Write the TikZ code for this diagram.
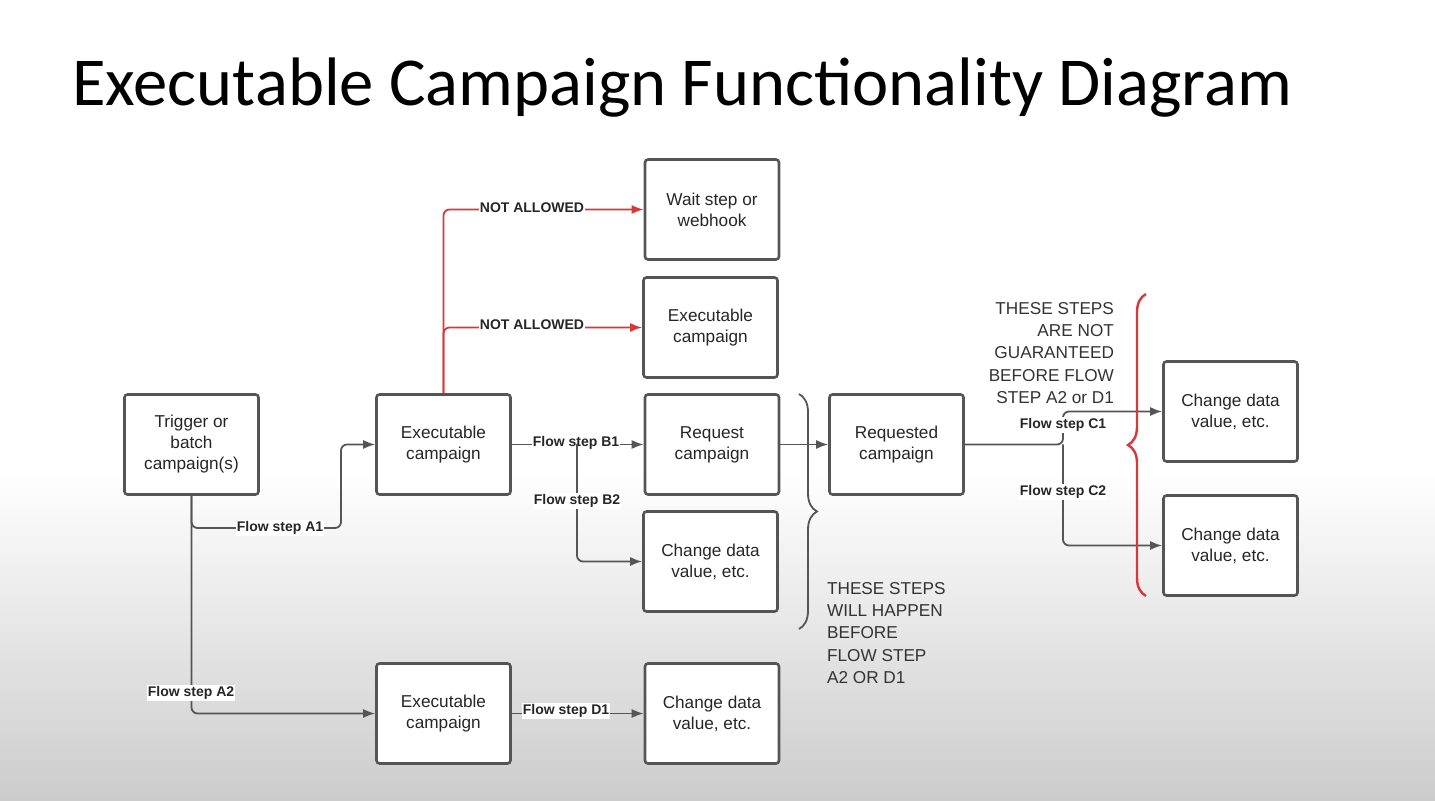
\documentclass[tikz,border=0pt]{standalone}
\usepackage{fontspec}
\setmainfont{Liberation Sans}
\newfontfamily\titlefont{Carlito}
\usetikzlibrary{arrows.meta,decorations.pathreplacing}
\definecolor{ln}{HTML}{555555}
\definecolor{rd}{HTML}{D9383A}
\begin{document}
\begin{tikzpicture}[x=0.5pt,y=-0.5pt,
  box/.style={draw=ln,line width=1.3pt,rounded corners=1.5pt,minimum width=67pt,minimum height=50pt,align=center,font=\fontsize{8.6}{10.5}\selectfont,text=black!85,fill=white},
  conn/.style={draw=ln,line width=0.9pt,-{Latex[length=6pt,width=4.5pt]},rounded corners=3pt},
  red/.style={conn,draw=rd,-{Latex[length=6pt,width=4.5pt]}},
  lab/.style={fill=white,inner sep=0.6pt,font=\bfseries\fontsize{7}{8}\selectfont,text=black!85},
  note/.style={font=\fontsize{8.6}{11.2}\selectfont,text=black!80}]
\shade[top color=white,bottom color=white] (0,0) rectangle (1435,470);
\shade[top color=white,bottom color=black!20] (0,470) rectangle (1435,801);
\useasboundingbox (0,0) rectangle (1435,801);
\node[anchor=base west,inner sep=0,font=\titlefont\fontsize{34.3}{36}\selectfont] (title) at (72,106) {Executable Campaign Functionality Diagram};
\node[box] (trig) at (191.5,444.5) {Trigger or\\batch\\campaign(s)};
\node[box] (ex1) at (443.5,444.5) {Executable\\campaign};
\node[box] (wait) at (712,209.5) {Wait step or\\webhook};
\node[box] (ex2) at (710.5,327.5) {Executable\\campaign};
\node[box] (req) at (712,444.5) {Request\\campaign};
\node[box] (ch1) at (710.5,561.5) {Change data\\value, etc.};
\node[box] (reqd) at (896.5,444.5) {Requested\\campaign};
\node[box] (chc1) at (1230.5,411.5) {Change data\\value, etc.};
\node[box] (chc2) at (1230.5,545.5) {Change data\\value, etc.};
\node[box] (ex3) at (443.5,713.5) {Executable\\campaign};
\node[box] (chd1) at (712,713.5) {Change data\\value, etc.};
\coordinate (jB) at (577,444);
\coordinate (jC) at (1063,444.5);
\draw[conn] (trig.south) |- (341,528) |- (ex1.west);
\node[lab] at (280,528) {Flow step A1};
\draw[conn] (trig.south) |- (ex3.west);
\node[lab] at (191,693) {Flow step A2};
\draw[conn] (ex1.east) -- (req.west);
\node[lab] at (576,443) {Flow step B1};
\draw[conn] (jB) |- (ch1.west);
\node[lab] at (577,501) {Flow step B2};
\draw[red] (ex1.north) |- (wait.west);
\draw[red] (ex1.north) |- (ex2.west);
\node[lab] at (532,208) {NOT ALLOWED};
\node[lab] at (532,325) {NOT ALLOWED};
\draw[conn] (req.east) -- (reqd.west);
\draw[conn] (reqd.east) -- (jC) |- (chc1.west);
\draw[conn] (jC) |- (chc2.west);
\node[lab] at (1063,425) {Flow step C1};
\node[lab] at (1063,492) {Flow step C2};
\draw[conn] (ex3.east) -- (chd1.west);
\node[lab] at (566,711) {Flow step D1};
\draw[ln,line width=0.9pt,decorate,decoration={brace,amplitude=9pt}] (799,394) -- (799,629);
\draw[rd,line width=1.2pt,decorate,decoration={brace,amplitude=9pt}] (1146,596) -- (1146,294);
\node[note,align=left,anchor=north west] (n1) at (820,575) {THESE STEPS\\WILL HAPPEN\\BEFORE\\FLOW STEP\\A2 OR D1};
\node[note,align=right,anchor=north east] (n2) at (1121,295) {THESE STEPS\\ARE NOT\\GUARANTEED\\BEFORE FLOW\\STEP A2 or D1};
\end{tikzpicture}
\end{document}
